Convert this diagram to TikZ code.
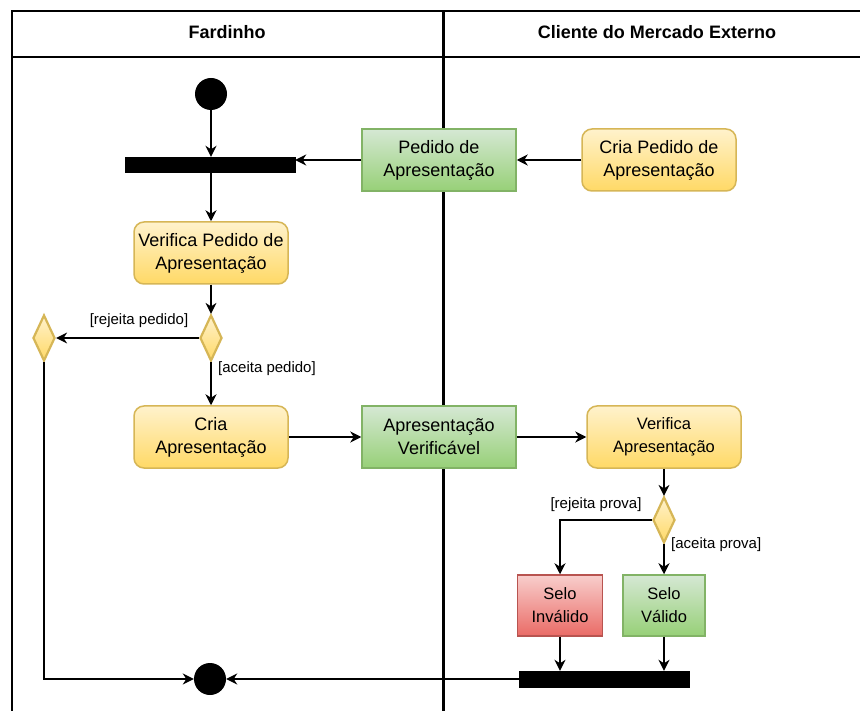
\documentclass[tikz,border=0pt]{standalone}
\usepackage{fontspec}
\setmainfont{Liberation Sans}
\usetikzlibrary{arrows.meta,shapes.geometric}

\definecolor{ylwTop}{HTML}{FFF2CC}
\definecolor{ylwBot}{HTML}{FFD966}
\definecolor{ylwLine}{HTML}{D6B656}
\definecolor{grnTop}{HTML}{D5E8D4}
\definecolor{grnBot}{HTML}{97D077}
\definecolor{grnLine}{HTML}{82B366}
\definecolor{redTop}{HTML}{F8CECC}
\definecolor{redBot}{HTML}{EA6B66}
\definecolor{redLine}{HTML}{B85450}

\tikzset{
  boxfont/.style={font=\fontsize{18}{23}\selectfont},
  smallbox/.style={font=\fontsize{16.5}{23}\selectfont},
  act/.style={rounded corners=10pt, draw=ylwLine, line width=1.5pt,
    top color=ylwTop, bottom color=ylwBot, minimum width=154pt,
    minimum height=62pt, align=center, inner sep=0pt, boxfont},
  obj/.style={draw=grnLine, line width=1.5pt, top color=grnTop,
    bottom color=grnBot, minimum width=154pt, minimum height=62pt,
    align=center, inner sep=0pt, boxfont},
  bad/.style={draw=redLine, line width=1.5pt, top color=redTop,
    bottom color=redBot, minimum width=85pt, minimum height=61pt,
    align=center, inner sep=0pt, smallbox},
  bar/.style={fill=black, draw=black, minimum width=170pt,
    minimum height=15pt, inner sep=0pt},
  dot/.style={circle, fill=black, minimum size=32pt, inner sep=0pt},
  dec/.style={diamond, draw=ylwLine, line width=2.2pt, top color=ylwTop,
    bottom color=ylwBot, minimum width=22pt, minimum height=46pt,
    inner sep=0pt},
  guard/.style={font=\fontsize{15}{18}\selectfont, inner sep=0pt},
  arr/.style={line width=1.5pt, -{Stealth[length=11pt,width=11pt,inset=3.5pt]}},
  lane/.style={line width=1.5pt},
}

\begin{document}
\begin{tikzpicture}[x=1pt,y=-1pt]
  \useasboundingbox[fill=white] (0,0) rectangle (860,711);

  % swimlane frame
  \draw[lane] (12,711) -- (12,11) -- (860,11);
  \draw[lane] (12,57) -- (860,57);
  \draw[line width=3pt] (443,11) -- (443,711);
  \node[font=\bfseries\fontsize{18}{22}\selectfont] (laneA) at (227,32) {Fardinho};
  \node[font=\bfseries\fontsize{18}{22}\selectfont] (laneB) at (657,32) {Cliente do Mercado Externo};

  % nodes
  \node[dot] (ini) at (211,94) {};
  \node[bar] (fork) at (210,164.5) {};
  \node[obj] (ped) at (439,160) {Pedido de\\Apresentação};
  \node[act] (crp) at (659,160) {Cria Pedido de\\Apresentação};
  \node[act] (vpa) at (211,253) {Verifica Pedido de\\Apresentação};
  \node[dec] (d1) at (211,338) {};
  \node[dec] (d0) at (44,338) {};
  \node[act] (cra) at (211,437) {Cria\\Apresentação};
  \node[obj] (apv) at (439,437) {Apresentação\\Verificável};
  \node[act, smallbox] (vap) at (664,437) {Verifica\\Apresentação};
  \node[dec] (d2) at (664,520) {};
  \node[bad] (inv) at (560,605.5) {Selo\\Inválido};
  \node[obj, smallbox, minimum width=82pt, minimum height=61pt] (val) at (664,605.5) {Selo\\Válido};
  \node[bar, minimum height=16pt] (join) at (604,679) {};
  \node[dot] (fim) at (210,679) {};

  % guard labels
  \node[guard] (gRp) at (139,321) {[rejeita pedido]};
  \node[guard, anchor=west] (gAp) at (218,369) {[aceita pedido]};
  \node[guard] (gRv) at (596,505) {[rejeita prova]};
  \node[guard, anchor=west] (gAv) at (671,545) {[aceita prova]};

  % connectors
  \draw[arr] (ini.south) -- (ini.south |- fork.north);
  \draw[arr] (crp.west) -- (ped.east);
  \draw[arr] (ped.west) -- (ped.west -| fork.east);
  \draw[arr] (vpa.north |- fork.south) -- (vpa.north);
  \draw[arr] (vpa.south) -- (d1.north);
  \draw[arr] (d1.west) -- (d0.east);
  \draw[arr] (d1.south) -- (cra.north);
  \draw[arr] (cra.east) -- (apv.west);
  \draw[arr] (apv.east) -- (vap.west);
  \draw[arr] (vap.south) -- (d2.north);
  \draw[arr] (d2.west) -| (inv.north);
  \draw[arr, line width=2.5pt] (d2.south) -- (val.north);
  \draw[arr] (inv.south) -- (inv.south |- join.north);
  \draw[arr] (val.south) -- (val.south |- join.north);
  \draw[arr] (join.west) -- (fim.east);
  \draw[arr] (d0.south) |- (fim.west);
\end{tikzpicture}
\end{document}
